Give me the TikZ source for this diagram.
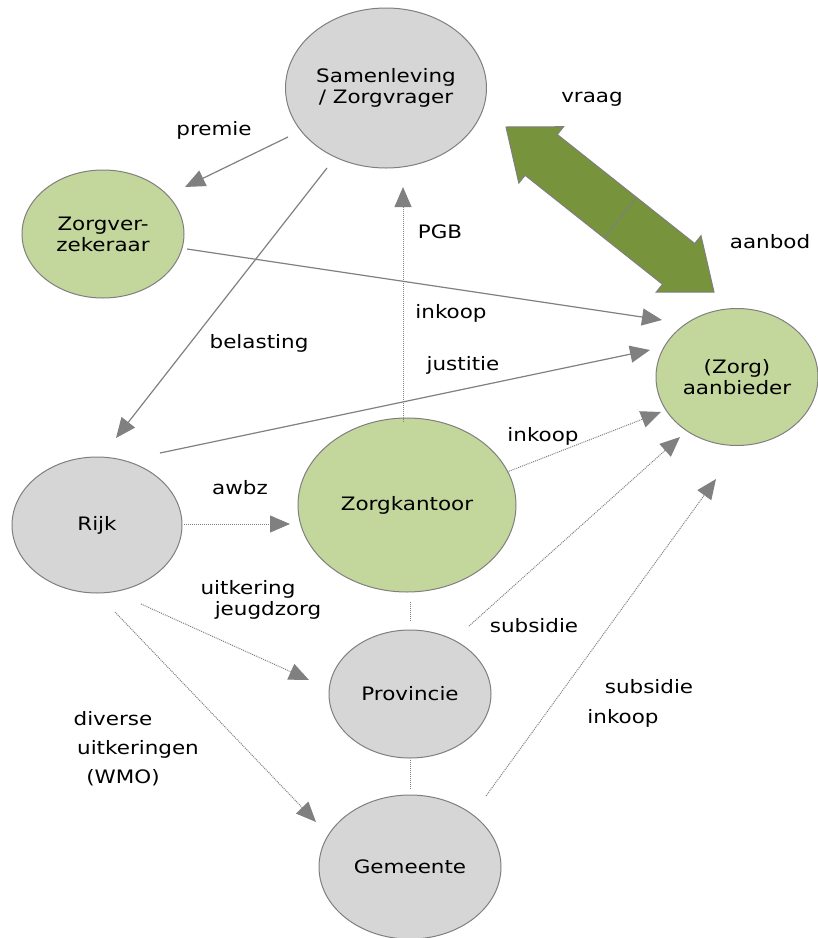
\documentclass[tikz,border=0pt]{standalone}
\usepackage{fontspec}
\setmainfont{DejaVu Sans}[FakeStretch=1.16]
\usetikzlibrary{arrows.meta,shapes.geometric}
\definecolor{nodegray}{HTML}{D6D6D6}
\definecolor{nodegreen}{HTML}{C3D69B}
\definecolor{edgegray}{HTML}{7F7F7F}
\definecolor{linegray}{HTML}{808080}
\definecolor{arrowgreen}{HTML}{77933C}
\begin{document}
\begin{tikzpicture}[x=1pt,y=-1pt,
  txt/.style={font=\fontsize{18.5}{21}\selectfont, inner sep=0pt, align=center},
  grayell/.style={ellipse, draw=edgegray, line width=1pt, fill=nodegray, inner sep=0pt, txt},
  greenell/.style={ellipse, draw=edgegray, line width=1pt, fill=nodegreen, inner sep=0pt, txt},
  lbl/.style={txt, anchor=center},
  conn/.style={draw=linegray, line width=1.2pt, -{Triangle[length=20pt,width=17pt]}},
  dotconn/.style={draw=linegray, line width=1pt, dash pattern=on 1pt off 1pt, -{Triangle[length=20pt,width=17pt]}},
  dotline/.style={draw=linegray, line width=1pt, dash pattern=on 1pt off 1pt}
]
\useasboundingbox (0,0) rectangle (818,938);
% nodes
\node[grayell, minimum width=201, minimum height=160] (sam) at (386,88) {Samenleving\\/ Zorgvrager};
\node[greenell, minimum width=162, minimum height=128] (zv) at (103,234) {Zorgver-\\zekeraar};
\node[greenell, minimum width=162, minimum height=137] (aan) at (737,377) {(Zorg)\\aanbieder};
\node[grayell, minimum width=170, minimum height=136] (rijk) at (97,525) {Rijk};
\node[greenell, minimum width=218, minimum height=174] (zk) at (407,505) {Zorgkantoor};
\node[grayell, minimum width=162, minimum height=128] (prov) at (410,694) {Provincie};
\node[grayell, minimum width=182, minimum height=144] (gem) at (410,867) {Gemeente};

% big double arrow (vraag / aanbod)
\filldraw[fill=arrowgreen, draw=edgegray, line width=1pt]
  (506,127) -- (563.6,126.7) -- (557.3,134.5) -- (694.7,243.5) -- (701,235.7)
  -- (714,292) -- (656.2,292.1) -- (662.5,284.3) -- (525.1,175.3) -- (518.8,183.1) -- cycle;
\draw[edgegray, line width=1pt] (604.2,238.1) -- (636.4,197.3);

% endpoints
\coordinate (p1s) at (288,137); \coordinate (p1e) at (185,187);
\coordinate (p2s) at (327,168); \coordinate (p2e) at (116,438);
\coordinate (p3s) at (187,249); \coordinate (p3e) at (662,320);
\coordinate (p4s) at (160,453); \coordinate (p4e) at (650,350);
\coordinate (p5s) at (403,422); \coordinate (p5e) at (403,187);
\coordinate (p6s) at (507,472); \coordinate (p6e) at (661,412);
\coordinate (p7s) at (184,524); \coordinate (p7e) at (290,524);
\coordinate (p8s) at (469,626); \coordinate (p8e) at (680,437);
\coordinate (p9s) at (486,796); \coordinate (p9e) at (716,479);
\coordinate (p10s) at (141,604); \coordinate (p10e) at (309,680);
\coordinate (p11s) at (115,612); \coordinate (p11e) at (316,822);
\coordinate (p12s) at (410,602); \coordinate (p12e) at (410,622);
\coordinate (p13s) at (410,760); \coordinate (p13e) at (410,790);

% connectors
\draw[conn] (p1s) -- (p1e);
\draw[conn] (p2s) -- (p2e);
\draw[conn] (p3s) -- (p3e);
\draw[conn] (p4s) -- (p4e);
\draw[dotconn] (p5s) -- (p5e);
\draw[dotconn] (p6s) -- (p6e);
\draw[dotconn] (p7s) -- (p7e);
\draw[dotconn] (p8s) -- (p8e);
\draw[dotconn] (p9s) -- (p9e);
\draw[dotconn] (p10s) -- (p10e);
\draw[dotconn] (p11s) -- (p11e);
\draw[dotline] (p12s) -- (p12e);
\draw[dotline] (p13s) -- (p13e);

% labels
\node[lbl] (lvraag) at (592,99) {vraag};
\node[lbl] (laanbod) at (770,242) {aanbod};
\node[lbl] (lpremie) at (214,130) {premie};
\node[lbl] (lpgb) at (440,232) {PGB};
\node[lbl] (link1) at (451,313) {inkoop};
\node[lbl] (lbel) at (259,343) {belasting};
\node[lbl] (ljus) at (463,365) {justitie};
\node[lbl] (link2) at (543,436) {inkoop};
\node[lbl] (lawbz) at (240,488) {awbz};
\node[lbl] (luit) at (248,589) {uitkering};
\node[lbl] (ljeugd) at (268,610) {jeugdzorg};
\node[lbl] (lsub1) at (534,626) {subsidie};
\node[lbl] (lsub2) at (649,687) {subsidie};
\node[lbl] (link3) at (623,718) {inkoop};
\node[lbl] (ldiv) at (113,719) {diverse};
\node[lbl] (luits) at (138,749) {uitkeringen};
\node[lbl] (lwmo) at (123,778) {(WMO)};
\end{tikzpicture}
\end{document}
